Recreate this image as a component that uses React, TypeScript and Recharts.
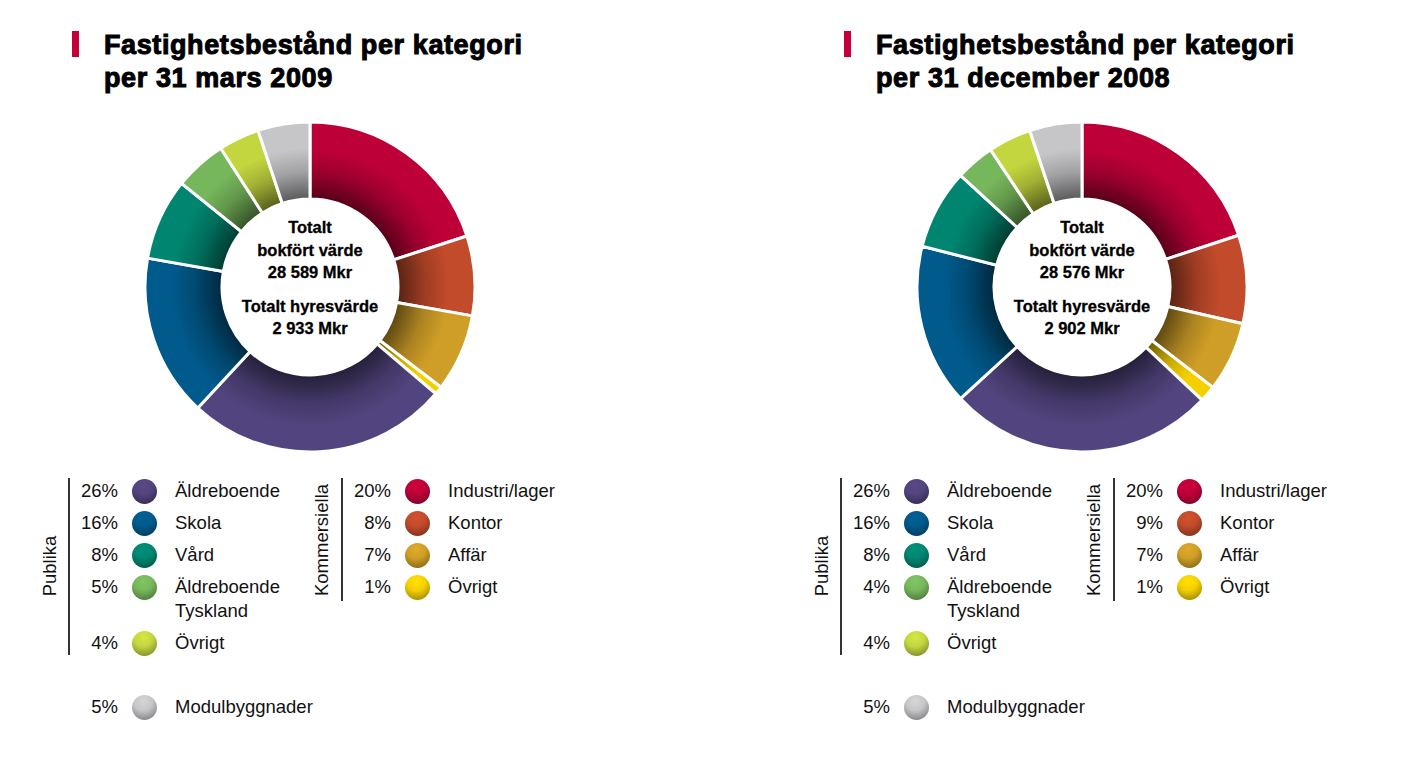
import React from "react";
import { PieChart, Pie, Cell } from "recharts";

// slice order, clockwise from 12 o'clock
const categories = [
  "Industri/lager",
  "Kontor",
  "Affär",
  "Övrigt",
  "Äldreboende",
  "Skola",
  "Vård",
  "Äldreboende\nTyskland",
  "Övrigt",
  "Modulbyggnader",
];
const colors = [
  "#be0038",
  "#c24b2b",
  "#cf9e27",
  "#f5d000",
  "#52447e",
  "#005a8c",
  "#008670",
  "#77b75c",
  "#c4d63f",
  "#c6c6c9",
];

const values2009 = [20.0, 7.8, 7.6, 0.8, 25.7, 15.9, 8.0, 5.1, 4.0, 5.1];
const values2008 = [19.8, 8.6, 6.8, 1.6, 26.0, 15.7, 7.8, 3.8, 4.2, 5.1];
const pct2009 = ["20%", "8%", "7%", "1%", "26%", "16%", "8%", "5%", "4%", "5%"];
const pct2008 = ["20%", "9%", "7%", "1%", "26%", "16%", "8%", "4%", "4%", "5%"];

const publikaIdx = [4, 5, 6, 7, 8];
const kommersiellaIdx = [0, 1, 2, 3];
const modulIdx = 9;

const panels = [
  {
    key: "m09",
    title: ["Fastighetsbestånd per kategori", "per 31 mars 2009"],
    values: values2009,
    pct: pct2009,
    bokfort: "28 589 Mkr",
    hyra: "2 933 Mkr",
  },
  {
    key: "d08",
    title: ["Fastighetsbestånd per kategori", "per 31 december 2008"],
    values: values2008,
    pct: pct2008,
    bokfort: "28 576 Mkr",
    hyra: "2 902 Mkr",
  },
];

const FONT = "'Liberation Sans', Arial, sans-serif";

function shade(hex: string, f: number) {
  const n = parseInt(hex.slice(1), 16);
  const r = Math.round(((n >> 16) & 255) * f);
  const g = Math.round(((n >> 8) & 255) * f);
  const b = Math.round((n & 255) * f);
  return `rgb(${Math.min(r, 255)},${Math.min(g, 255)},${Math.min(b, 255)})`;
}

const SIZE = 340;
const OUTER = 165;
const INNER = 88;

function Donut({ id, values }: { id: string; values: number[] }) {
  const data = categories.map((name, i) => ({ name, value: values[i] }));
  return (
    <PieChart width={SIZE} height={SIZE} margin={{ top: 0, right: 0, bottom: 0, left: 0 }}>
      <defs>
        {colors.map((c, i) => (
          <radialGradient
            key={i}
            id={`${id}-g${i}`}
            gradientUnits="userSpaceOnUse"
            cx={SIZE / 2}
            cy={SIZE / 2}
            r={OUTER}
          >
            <stop offset={INNER / OUTER} stopColor={shade(c, 0.45)} />
            <stop offset={0.7} stopColor={shade(c, 0.82)} />
            <stop offset={0.84} stopColor={c} />
            <stop offset={1} stopColor={c} />
          </radialGradient>
        ))}
      </defs>
      <Pie
        data={data}
        dataKey="value"
        cx={SIZE / 2}
        cy={SIZE / 2}
        innerRadius={INNER}
        outerRadius={OUTER}
        startAngle={90}
        endAngle={-270}
        stroke="#fff"
        strokeWidth={3}
        isAnimationActive={false}
      >
        {data.map((_, i) => (
          <Cell key={i} fill={`url(#${id}-g${i})`} />
        ))}
      </Pie>
    </PieChart>
  );
}

function Ball({ color }: { color: string }) {
  return (
    <div
      style={{
        width: 25,
        height: 25,
        borderRadius: "50%",
        background: `radial-gradient(circle at 45% 25%, ${shade(color, 1.08)} 0%, ${color} 40%, ${shade(color, 0.55)} 100%)`,
      }}
    />
  );
}

function LegendRow({ x, y, pct, idx }: { x: number; y: number; pct: string; idx: number }) {
  const lines = categories[idx].split("\n");
  return (
    <>
      <div style={{ position: "absolute", left: x - 60, top: y - 12, width: 60, textAlign: "right", lineHeight: "24px" }}>
        {pct}
      </div>
      <div style={{ position: "absolute", left: x + 14, top: y - 12.5 }}>
        <Ball color={colors[idx]} />
      </div>
      <div style={{ position: "absolute", left: x + 57, top: y - 12, lineHeight: "24px", whiteSpace: "nowrap" }}>
        {lines.map((l, k) => (
          <div key={k}>{l}</div>
        ))}
      </div>
    </>
  );
}

function Panel({ p, dx }: { p: (typeof panels)[number]; dx: number }) {
  const pubRows = [491, 523, 555, 587, 643];
  const komRows = [491, 523, 555, 587];
  return (
    <div style={{ position: "absolute", left: dx, top: 0, width: 700, height: 769 }}>
      <div style={{ position: "absolute", left: 72, top: 31, width: 7, height: 26, background: "#c4003a" }} />
      <div
        style={{
          position: "absolute",
          left: 104,
          top: 29,
          fontSize: 27,
          lineHeight: "33px",
          fontWeight: 700,
          letterSpacing: 0.6,
          WebkitTextStroke: "1px #000",
          color: "#000",
          whiteSpace: "nowrap",
        }}
      >
        {p.title.map((t, k) => (
          <div key={k}>{t}</div>
        ))}
      </div>

      <div style={{ position: "absolute", left: 140, top: 117 }}>
        <Donut id={p.key} values={p.values} />
      </div>
      <div
        style={{
          position: "absolute",
          left: 140 + SIZE / 2 - 90,
          top: 216,
          width: 180,
          textAlign: "center",
          fontWeight: 700,
          fontSize: 16.5,
          lineHeight: "22.5px",
          WebkitTextStroke: "0.3px #000",
          color: "#000",
        }}
      >
        <div>Totalt</div>
        <div>bokfört värde</div>
        <div>{p.bokfort}</div>
        <div style={{ marginTop: 11 }}>Totalt hyresvärde</div>
        <div>{p.hyra}</div>
      </div>

      <div style={{ fontSize: 18.5, color: "#111" }}>
        <div
          style={{
            position: "absolute",
            left: 50 - 50,
            top: 566 - 12,
            width: 100,
            textAlign: "center",
            lineHeight: "24px",
            transform: "rotate(-90deg)",
          }}
        >
          Publika
        </div>
        <div style={{ position: "absolute", left: 68, top: 478, width: 1.5, height: 177, background: "#333" }} />
        {publikaIdx.map((idx, k) => (
          <LegendRow key={idx} x={118} y={pubRows[k]} pct={p.pct[idx]} idx={idx} />
        ))}

        <div
          style={{
            position: "absolute",
            left: 322 - 70,
            top: 540 - 12,
            width: 140,
            textAlign: "center",
            lineHeight: "24px",
            transform: "rotate(-90deg)",
          }}
        >
          Kommersiella
        </div>
        <div style={{ position: "absolute", left: 341, top: 478, width: 1.5, height: 123, background: "#333" }} />
        {kommersiellaIdx.map((idx, k) => (
          <LegendRow key={idx} x={391} y={komRows[k]} pct={p.pct[idx]} idx={idx} />
        ))}

        <LegendRow x={118} y={707} pct={p.pct[modulIdx]} idx={modulIdx} />
      </div>
    </div>
  );
}

export default function App() {
  return (
    <div
      style={{
        position: "absolute",
        left: 0,
        top: 0,
        width: 1403,
        height: 769,
        background: "#fff",
        fontFamily: FONT,
        overflow: "hidden",
      }}
    >
      {panels.map((p, i) => (
        <Panel key={p.key} p={p} dx={i * 772} />
      ))}
    </div>
  );
}
